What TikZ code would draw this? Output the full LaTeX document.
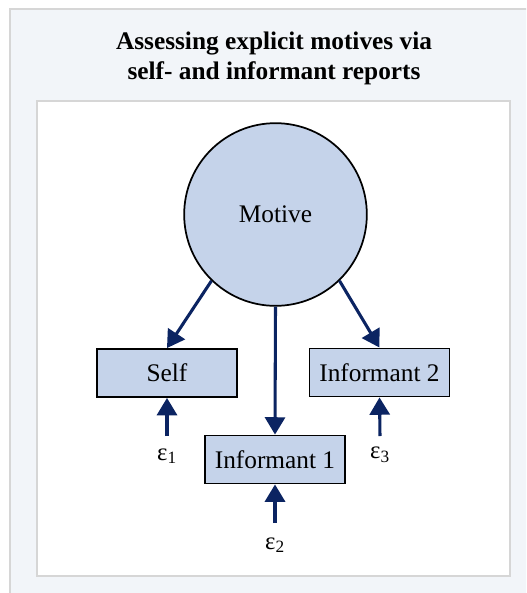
\documentclass[tikz,border=0pt]{standalone}
\usepackage{fontspec}
\setmainfont{Liberation Serif}
\usetikzlibrary{arrows.meta}
\definecolor{boxfill}{HTML}{C5D3EA}
\definecolor{navy}{HTML}{0B2462}
\definecolor{panelbg}{HTML}{F2F5F9}
\definecolor{panelline}{HTML}{D6D6D6}
\tikzset{
  obs/.style={draw=black, line width=1.4pt, fill=boxfill, rectangle,
    minimum width=105pt, minimum height=36pt, inner sep=0pt,
    font=\fontsize{19}{22}\selectfont},
  latent/.style={draw=black, line width=1.3pt, fill=boxfill, circle,
    minimum size=137pt, inner sep=0pt, font=\fontsize{19}{22}\selectfont},
  errlab/.style={inner sep=0pt, font=\fontsize{18.5}{21}\selectfont},
  path/.style={draw=navy, line width=2.3pt,
    -{Triangle[width=15pt,length=13pt]}},
}
\begin{document}
\begin{tikzpicture}[x=0.75pt,y=-0.75pt]
\useasboundingbox (0,0) rectangle (526,593);
\clip (0,0) rectangle (526,593);
\fill[white] (0,0) rectangle (526,593);
\draw[fill=panelbg, draw=panelline, line width=0.8pt] (10,9) rectangle (540,610);
\draw[fill=white, draw=panelline, line width=1.2pt] (37,101) rectangle (510,576);
\node[align=center, font=\fontsize{19}{22.5}\selectfont\bfseries] (title) at (274,58)
  {Assessing explicit motives via\\self- and informant reports};
\node[latent] (motive) at (275.5,214.5) {Motive};
\node[obs] (self) at (167,373) {Self};
\node[obs] (inf2) at (379.5,372.5) {Informant 2};
\node[obs] (inf1) at (275,459.5) {Informant 1};
\node[errlab] (e1) at (167,456) {ε\textsubscript{1}};
\node[errlab] (e3) at (380,455) {ε\textsubscript{3}};
\node[errlab] (e2) at (275,545) {ε\textsubscript{2}};
\coordinate (e1top) at (167,436);
\coordinate (e3top) at (380,436);
\coordinate (e2top) at (275,523);
\draw[path] (motive.-134) -- (self.north);
\draw[path] (motive.-46) -- (inf2.north);
\draw[path] (motive.south) -- (inf1.north);
\draw[path] (e1top) -- (self.south);
\draw[path] (e3top) -- (inf2.south);
\draw[path] (e2top) -- (inf1.south);
\end{tikzpicture}
\end{document}
